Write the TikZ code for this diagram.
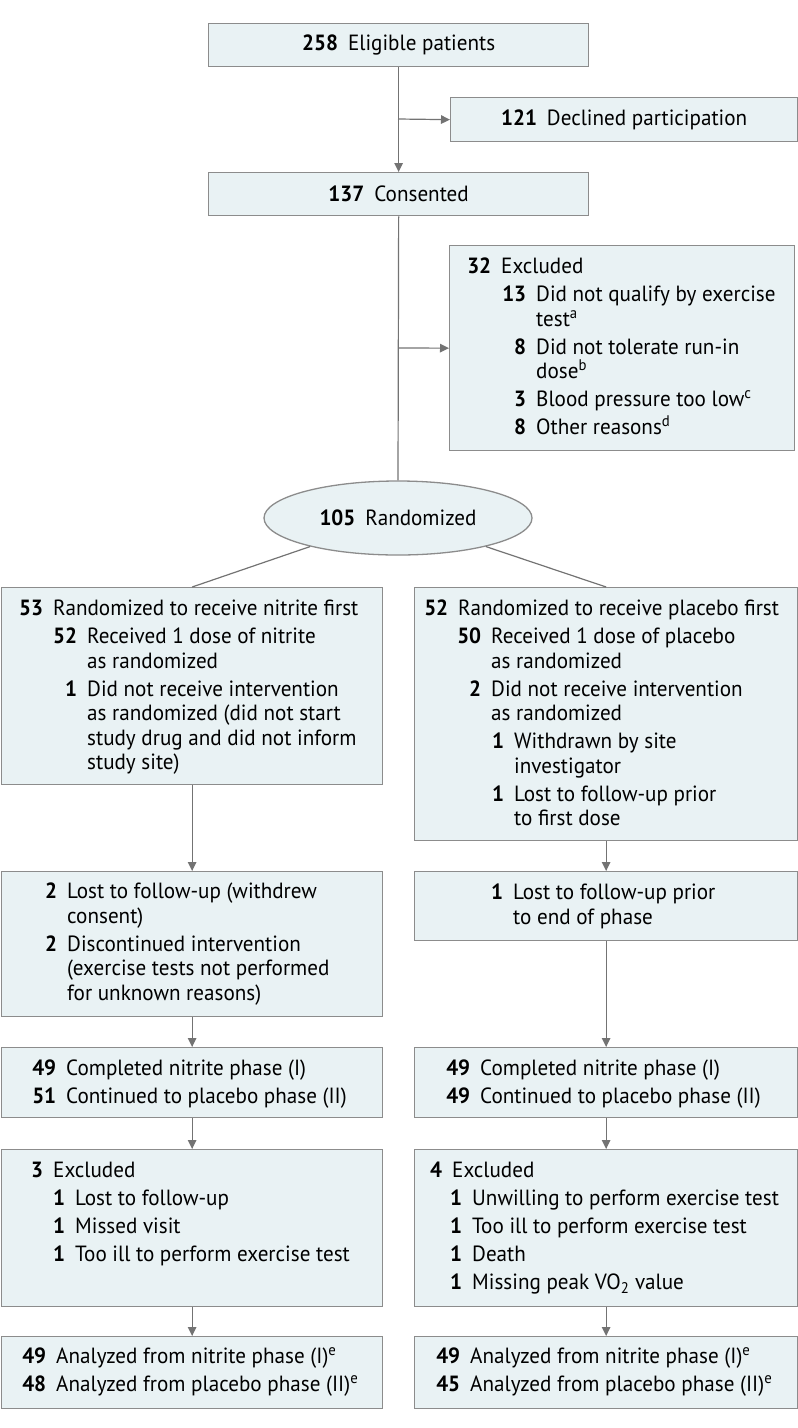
\documentclass[tikz,border=0pt]{standalone}
\usepackage{fontspec}
\setmainfont{PT Sans}[FakeStretch=0.96]
\usetikzlibrary{shapes.geometric,arrows.meta}
\definecolor{boxfill}{RGB}{233,242,244}
\definecolor{boxline}{RGB}{140,140,140}
\definecolor{conn}{RGB}{115,115,115}
\newlength\gapw \setlength\gapw{10pt}
\newcommand\fst[3]{\hbox{\hbox to #1{\hfil\bfseries #2}\hskip\gapw #3}}
\newcommand\itm[3]{\vskip 3.5pt\hbox{\hbox to #1{\hfil\bfseries #2}\hskip\gapw #3}}
\newcommand\cnt[2]{\hbox{\hskip #1\hskip\gapw #2}}
\tikzset{
  box/.style={draw=boxline, fill=boxfill, line width=1.3pt, inner sep=0pt, anchor=north west},
  cbox/.style={draw=boxline, fill=boxfill, line width=1.3pt, inner sep=0pt, anchor=north west,
    font=\fontsize{22}{24.5}\selectfont, align=center},
  oval/.style={ellipse, draw=boxline, fill=boxfill, line width=1.3pt, inner sep=0pt,
    minimum width=268pt, minimum height=74pt, font=\fontsize{22}{24.5}\selectfont},
  txt/.style={anchor=base west, inner sep=0pt, font=\fontsize{22}{24.5}\selectfont},
  line/.style={draw=conn, line width=1.2pt},
  arr/.style={draw=conn, line width=1.2pt, -{Triangle[length=9pt,width=8.5pt]}}
}
\begin{document}
\begin{tikzpicture}[x=1pt,y=-1pt]
\useasboundingbox (0,0) rectangle (798,1428);

% top boxes
\node[cbox, minimum width=380pt, minimum height=43pt] (elig) at (208,23)
  {\textbf{258}\hskip\gapw Eligible patients};
\node[cbox, minimum width=347pt, minimum height=44pt] (decl) at (450,97)
  {\textbf{121}\hskip\gapw Declined participation};
\node[cbox, minimum width=380pt, minimum height=43pt] (cons) at (208,172)
  {\textbf{137}\hskip\gapw Consented};
\node[box, minimum width=345pt, minimum height=205pt] (excl) at (449,245) {};
\node[txt] (exclt) at ([yshift=-28.5pt]excl.north west) {\vtop{%
  \fst{42pt}{32}{Excluded}
  \itm{77pt}{13}{Did not qualify by exercise}
  \cnt{77pt}{test\textsuperscript{a}}
  \itm{77pt}{8}{Did not tolerate run-in}
  \cnt{77pt}{dose\textsuperscript{b}}
  \itm{77pt}{3}{Blood pressure too low\textsuperscript{c}}
  \itm{77pt}{8}{Other reasons\textsuperscript{d}}}};

\node[oval] (rand) at (398,518) {\textbf{105}\hskip\gapw Randomized};

% randomized arms
\node[box, minimum width=381pt, minimum height=197pt] (A) at (1,587) {};
\node[txt] (At) at ([yshift=-28.5pt]A.north west) {\vtop{%
  \fst{42pt}{53}{Randomized to receive nitrite first}
  \itm{76pt}{52}{Received 1 dose of nitrite}
  \cnt{76pt}{as randomized}
  \itm{76pt}{1}{Did not receive intervention}
  \cnt{76pt}{as randomized (did not start}
  \cnt{76pt}{study drug and did not inform}
  \cnt{76pt}{study site)}}};

\node[box, minimum width=383pt, minimum height=253pt] (B) at (414,587) {};
\node[txt] (Bt) at ([yshift=-28.5pt]B.north west) {\vtop{%
  \fst{34pt}{52}{Randomized to receive placebo first}
  \itm{67pt}{50}{Received 1 dose of placebo}
  \cnt{67pt}{as randomized}
  \itm{67pt}{2}{Did not receive intervention}
  \cnt{67pt}{as randomized}
  \itm{90pt}{1}{Withdrawn by site}
  \cnt{90pt}{investigator}
  \itm{90pt}{1}{Lost to follow-up prior}
  \cnt{90pt}{to first dose}}};

\node[box, minimum width=381pt, minimum height=145pt] (C) at (1,871) {};
\node[txt] (Ct) at ([yshift=-27.5pt]C.north west) {\vtop{%
  \fst{56pt}{2}{Lost to follow-up (withdrew}
  \cnt{56pt}{consent)}
  \itm{56pt}{2}{Discontinued intervention}
  \cnt{56pt}{(exercise tests not performed}
  \cnt{56pt}{for unknown reasons)}}};

\node[box, minimum width=383pt, minimum height=69pt] (D) at (414,871) {};
\node[txt] (Dt) at ([yshift=-28.5pt]D.north west) {\vtop{%
  \fst{89pt}{1}{Lost to follow-up prior}
  \cnt{89pt}{to end of phase}}};

\node[box, minimum width=381pt, minimum height=70pt] (E) at (1,1047) {};
\node[txt] (Et) at ([yshift=-28.5pt]E.north west) {\vtop{%
  \fst{55pt}{49}{Completed nitrite phase (I)}
  \itm{55pt}{51}{Continued to placebo phase (II)}}};

\node[box, minimum width=383pt, minimum height=70pt] (F) at (414,1047) {};
\node[txt] (Ft) at ([yshift=-28.5pt]F.north west) {\vtop{%
  \fst{56pt}{49}{Completed nitrite phase (I)}
  \itm{56pt}{49}{Continued to placebo phase (II)}}};

\node[box, minimum width=381pt, minimum height=157pt] (G) at (1,1149) {};
\node[txt] (Gt) at ([yshift=-28.5pt]G.north west) {\vtop{%
  \fst{42pt}{3}{Excluded}
  \itm{64pt}{1}{Lost to follow-up}
  \itm{64pt}{1}{Missed visit}
  \itm{64pt}{1}{Too ill to perform exercise test}}};

\node[box, minimum width=383pt, minimum height=157pt] (H) at (414,1149) {};
\node[txt] (Ht) at ([yshift=-28.5pt]H.north west) {\vtop{%
  \fst{28pt}{4}{Excluded}
  \itm{48pt}{1}{Unwilling to perform exercise test}
  \itm{48pt}{1}{Too ill to perform exercise test}
  \itm{48pt}{1}{Death}
  \itm{48pt}{1}{Missing peak VO\textsubscript{2} value}}};

\node[box, minimum width=381pt, minimum height=72pt] (I) at (1,1336) {};
\node[txt] (It) at ([yshift=-27.5pt]I.north west) {\vtop{%
  \fst{45pt}{49}{Analyzed from nitrite phase (I)\textsuperscript{e}}
  \itm{45pt}{48}{Analyzed from placebo phase (II)\textsuperscript{e}}}};

\node[box, minimum width=383pt, minimum height=72pt] (J) at (414,1336) {};
\node[txt] (Jt) at ([yshift=-27.5pt]J.north west) {\vtop{%
  \fst{46pt}{49}{Analyzed from nitrite phase (I)\textsuperscript{e}}
  \itm{46pt}{45}{Analyzed from placebo phase (II)\textsuperscript{e}}}};

% connectors
\coordinate (b1) at (398,119);
\coordinate (b2) at (398,348);
\draw[arr] (elig.south) -- (cons.north);
\draw[arr] (b1) -- (decl.west);
\draw[line] (cons.south) -- (rand.north);
\draw[arr] (b2) -- (excl.west);
\draw[line] (rand.198) -- (A.north);
\draw[line] (rand.342) -- (B.north);
\draw[arr] (A.south) -- (C.north);
\draw[arr] (B.south) -- (D.north);
\draw[arr] (C.south) -- (E.north);
\draw[arr] (D.south) -- (F.north);
\draw[arr] (E.south) -- (G.north);
\draw[arr] (F.south) -- (H.north);
\draw[arr] (G.south) -- (I.north);
\draw[arr] (H.south) -- (J.north);
\end{tikzpicture}
\end{document}
